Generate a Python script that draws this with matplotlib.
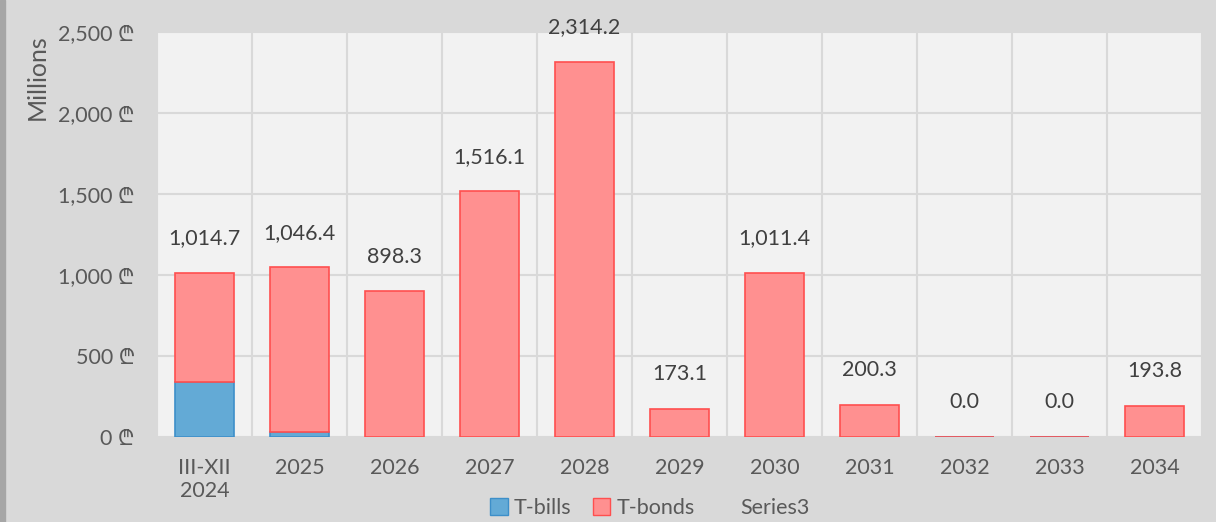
import matplotlib.pyplot as plt
import numpy as np
from matplotlib.patches import Patch

plt.rcParams['font.family'] = ['Lato', 'Noto Sans', 'Roboto', 'Open Sans', 'Inter',
                               'Liberation Sans', 'Noto Sans CJK SC', 'DejaVu Sans']

categories = ['III-XII\n2024', '2025', '2026', '2027', '2028', '2029',
              '2030', '2031', '2032', '2033', '2034']
t_bills = [340.0, 30.0, 0, 0, 0, 0, 0, 0, 0, 0, 0]
totals = [1014.7, 1046.4, 898.3, 1516.1, 2314.2, 173.1, 1011.4, 200.3, 0.0, 0.0, 193.8]
t_bonds = [t - b for t, b in zip(totals, t_bills)]

fig = plt.figure(figsize=(12.16, 5.22), dpi=100, facecolor='#d9d9d9')
ax = fig.add_axes([157/1216, 85/522, 1045/1216, 405/522])
ax.set_facecolor('#f2f2f2')

x = np.arange(len(categories))
ax.bar(x, t_bills, width=0.63, color='#63aad6', edgecolor='#3d8fc9', linewidth=1.2, zorder=3)
ax.bar(x, t_bonds, bottom=t_bills, width=0.63, color='#ff9090', edgecolor='#ff4f4f',
       linewidth=1.2, zorder=3)

for xi, t in zip(x, totals):
    ax.annotate(f'{t:,.1f}', (xi, t), xytext=(0, 25), textcoords='offset points',
                ha='center', va='center', fontsize=15.5, color='#404040')

ax.set_xlim(-0.5, len(categories) - 0.5)
ax.set_ylim(0, 2500)
ax.set_yticks(np.arange(0, 2501, 500))
ax.set_yticklabels([f'{v:,.0f} ₾' for v in np.arange(0, 2501, 500)])
ax.set_xticks(x)
ax.set_xticklabels(categories)
ax.set_xticks(np.arange(-0.5, len(categories), 0.5), minor=True)
ax.grid(axis='y', color='#d9d9d9', linewidth=1.5, zorder=0)
ax.grid(axis='x', which='minor', color='#d9d9d9', linewidth=1.5, zorder=0)
ax.tick_params(axis='both', which='both', length=0, labelsize=15.5, labelcolor='#595959')
ax.tick_params(axis='x', pad=15)
ax.tick_params(axis='y', pad=16)
for s in ax.spines.values():
    s.set_visible(False)

fig.text(37/1216, 1 - 77/522, 'Millions', rotation=90, ha='center', va='center',
         fontsize=18, color='#595959')

handles = [Patch(facecolor='#63aad6', edgecolor='#3d8fc9'),
           Patch(facecolor='#ff9090', edgecolor='#ff4f4f'),
           Patch(facecolor='none', edgecolor='none')]
fig.legend(handles, ['T-bills', 'T-bonds', 'Series3'], loc='center',
           bbox_to_anchor=(650/1216, 1 - 508/522), ncol=3, frameon=False,
           fontsize=15.5, labelcolor='#595959', handlelength=0.8, handleheight=0.8,
           handletextpad=0.3, columnspacing=1.0)

fig.patches.append(plt.Rectangle((0, 0), 5/1216, 1, transform=fig.transFigure,
                                 color='#a6a6a6'))
fig.savefig('out.png', dpi=100, facecolor=fig.get_facecolor())
